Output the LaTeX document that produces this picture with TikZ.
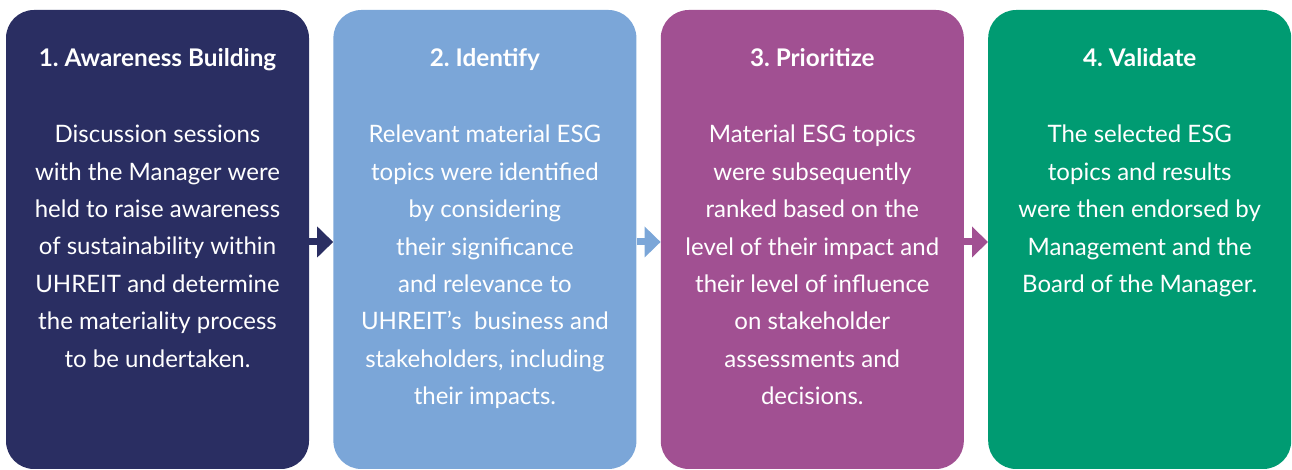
\documentclass[tikz,border=0pt]{standalone}
\usepackage{fontspec}
\setmainfont{Lato}
\usetikzlibrary{arrows.meta,positioning}
\definecolor{stageNavy}{HTML}{2A2E62}
\definecolor{stageBlue}{HTML}{7BA6D8}
\definecolor{stagePlum}{HTML}{A15092}
\definecolor{stageGreen}{HTML}{009B72}
\frenchspacing

\begin{document}
\begin{tikzpicture}[x=1pt,y=1pt,
    stage/.style={rounded corners=28pt, minimum width=303pt, minimum height=459pt, inner sep=0pt},
    heading/.style={anchor=base, text=white, font=\fontsize{24.3}{29}\selectfont\bfseries},
    body/.style={anchor=north, text=white, align=center, inner sep=0pt, font=\fontsize{24}{37.4}\selectfont},
    flow/.style={line width=7pt, -{Triangle[length=16pt, width=30pt]}}]
    \useasboundingbox (0,0) rectangle (1292,470);
    % stages
    \node[stage, fill=stageNavy] (aware) at (157.5,230.5) {};
    \node[stage, fill=stageBlue, right=24pt of aware] (ident) {};
    \node[stage, fill=stagePlum, right=24pt of ident] (prior) {};
    \node[stage, fill=stageGreen, right=24pt of prior] (valid) {};
    % arrows between stages
    \draw[flow, stageNavy] ([yshift=-2.5pt]aware.east) -- ([yshift=-2.5pt]ident.west);
    \draw[flow, stageBlue] ([yshift=-2.5pt]ident.east) -- ([yshift=-2.5pt]prior.west);
    \draw[flow, stagePlum] ([yshift=-2.5pt]prior.east) -- ([yshift=-2.5pt]valid.west);
    % headings
    \node[heading] (aware-h) at (aware.center |- 0,403) {1. Awareness Building};
    \node[heading] (ident-h) at (ident.center |- 0,403) {2. Identify};
    \node[heading] (prior-h) at (prior.center |- 0,403) {3. Prioritize};
    \node[heading] (valid-h) at (valid.center |- 0,403) {4. Validate};
    % texts
    \node[body] (aware-b) at (aware.center |- 0,345) {Discussion sessions\\with the Manager were\\held to raise awareness\\of sustainability within\\UHREIT and determine\\the materiality process\\to be undertaken.};
    \node[body] (ident-b) at (ident.center |- 0,345) {Relevant material ESG\\topics were identified\\by considering\\their significance\\and relevance to\\UHREIT’s~ business and\\stakeholders, including\\their impacts.};
    \node[body] (prior-b) at (prior.center |- 0,345) {Material ESG topics\\were subsequently\\ranked based on the\\level of their impact and\\their level of influence\\on stakeholder\\assessments and\\decisions.};
    \node[body] (valid-b) at (valid.center |- 0,345) {The selected ESG\\topics and results\\were then endorsed by\\Management and the\\Board of the Manager.};
\end{tikzpicture}
\end{document}
